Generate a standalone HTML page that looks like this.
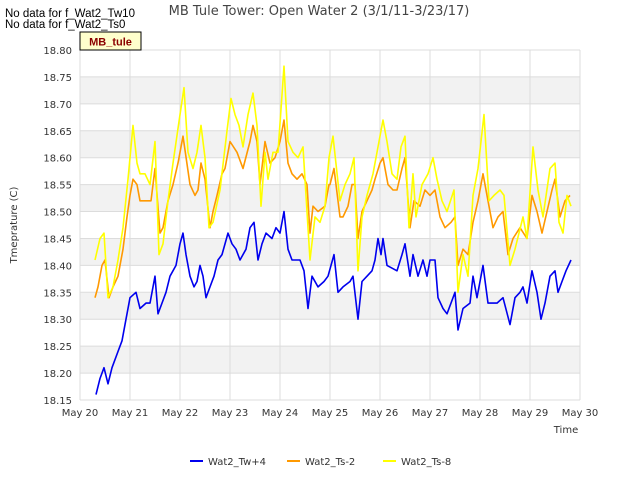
<!DOCTYPE html>
<html><head><meta charset="utf-8"><style>
body{margin:0;background:#fff;font-family:"Liberation Sans",sans-serif}
</style></head><body>
<svg id="c" width="640" height="480" xmlns="http://www.w3.org/2000/svg" font-family="DejaVu Sans, sans-serif">
<text x="5" y="17" font-size="11.5" fill="#000" font-family="Liberation Sans, sans-serif">No data for f_Wat2_Tw10</text>
<text x="5" y="28" font-size="11.5" fill="#000" font-family="Liberation Sans, sans-serif">No data for f_Wat2_Ts0</text>
<text x="319" y="15" font-size="13" fill="#444" text-anchor="middle">MB Tule Tower: Open Water 2 (3/1/11-3/23/17)</text>
<g id="plot"></g>
<text x="566" y="433" font-size="10" fill="#333" text-anchor="middle">Time</text>
<text x="17" y="225" font-size="10" fill="#333" text-anchor="middle" transform="rotate(-90 17 225)">Tmeprature (C)</text>
<rect x="80" y="32" width="61" height="18" fill="#ffffcc" stroke="#000"/>
<text x="110.5" y="45.5" font-size="11" font-weight="bold" fill="#8b0000" text-anchor="middle" font-family="Liberation Sans, sans-serif">MB_tule</text>
<g id="legend"></g>
</svg>
<script>
const xTickLabels=["May 20","May 21","May 22","May 23","May 24","May 25","May 26","May 27","May 28","May 29","May 30"];
const yTicks=[18.15,18.20,18.25,18.30,18.35,18.40,18.45,18.50,18.55,18.60,18.65,18.70,18.75,18.80];
const seriesNames=["Wat2_Tw+4","Wat2_Ts-2","Wat2_Ts-8"];
const seriesColors=["#0000ee","#ff9900","#ffff00"];
const twT=[0.32,0.40,0.48,0.56,0.64,0.76,0.84,0.92,1.00,1.12,1.20,1.32,1.40,1.50,1.56,1.64,1.72,1.80,1.92,2.00,2.06,2.12,2.20,2.28,2.34,2.40,2.46,2.52,2.60,2.68,2.76,2.84,2.96,3.04,3.12,3.20,3.32,3.40,3.48,3.56,3.64,3.72,3.84,3.92,4.00,4.08,4.16,4.24,4.40,4.48,4.56,4.64,4.76,4.88,4.96,5.08,5.16,5.26,5.40,5.46,5.56,5.64,5.74,5.84,5.90,5.96,6.02,6.06,6.14,6.34,6.44,6.50,6.60,6.66,6.76,6.86,6.94,7.00,7.10,7.16,7.26,7.34,7.42,7.50,7.56,7.66,7.80,7.86,7.94,8.06,8.16,8.34,8.46,8.60,8.70,8.80,8.86,8.94,9.04,9.14,9.22,9.30,9.40,9.50,9.56,9.64,9.72,9.82];
const twV=[18.16,18.19,18.21,18.18,18.21,18.24,18.26,18.30,18.34,18.35,18.32,18.33,18.33,18.38,18.31,18.33,18.35,18.38,18.40,18.44,18.46,18.42,18.38,18.36,18.37,18.40,18.38,18.34,18.36,18.38,18.41,18.42,18.46,18.44,18.43,18.41,18.43,18.47,18.48,18.41,18.44,18.46,18.45,18.47,18.46,18.50,18.43,18.41,18.41,18.39,18.32,18.38,18.36,18.37,18.38,18.42,18.35,18.36,18.37,18.38,18.30,18.37,18.38,18.39,18.41,18.45,18.42,18.45,18.40,18.39,18.42,18.44,18.38,18.42,18.38,18.41,18.38,18.41,18.41,18.34,18.32,18.31,18.33,18.35,18.28,18.32,18.33,18.38,18.34,18.40,18.33,18.33,18.34,18.29,18.34,18.35,18.36,18.33,18.39,18.35,18.30,18.33,18.38,18.39,18.35,18.37,18.39,18.41];
const ts2T=[0.30,0.36,0.44,0.50,0.58,0.66,0.76,0.86,0.94,1.00,1.06,1.14,1.20,1.30,1.36,1.42,1.50,1.60,1.66,1.76,1.86,1.96,2.06,2.20,2.30,2.36,2.42,2.50,2.60,2.66,2.74,2.84,2.90,3.00,3.14,3.26,3.40,3.46,3.54,3.60,3.70,3.80,3.90,4.00,4.08,4.16,4.24,4.34,4.44,4.54,4.60,4.66,4.76,4.90,4.98,5.00,5.08,5.16,5.20,5.26,5.36,5.44,5.50,5.56,5.64,5.74,5.84,5.90,6.00,6.06,6.16,6.26,6.34,6.44,6.50,6.60,6.68,6.80,6.90,7.00,7.10,7.20,7.30,7.42,7.50,7.56,7.66,7.76,7.86,7.96,8.06,8.16,8.26,8.36,8.46,8.56,8.66,8.80,8.94,9.04,9.14,9.24,9.34,9.44,9.50,9.60,9.70,9.80];
const ts2V=[18.34,18.36,18.40,18.41,18.34,18.36,18.38,18.43,18.49,18.53,18.56,18.55,18.52,18.52,18.52,18.52,18.58,18.46,18.47,18.52,18.55,18.59,18.64,18.55,18.53,18.54,18.59,18.56,18.47,18.50,18.53,18.57,18.58,18.63,18.61,18.58,18.63,18.66,18.63,18.55,18.63,18.59,18.60,18.63,18.67,18.59,18.57,18.56,18.57,18.55,18.46,18.51,18.50,18.51,18.55,18.55,18.58,18.52,18.49,18.49,18.51,18.55,18.55,18.45,18.50,18.52,18.54,18.56,18.59,18.60,18.55,18.54,18.54,18.58,18.60,18.47,18.52,18.51,18.54,18.53,18.54,18.49,18.47,18.48,18.49,18.40,18.43,18.42,18.48,18.52,18.57,18.52,18.47,18.49,18.50,18.42,18.45,18.47,18.45,18.53,18.50,18.46,18.50,18.54,18.56,18.49,18.52,18.53];
const ts8T=[0.30,0.40,0.48,0.56,0.66,0.76,0.86,0.96,1.06,1.14,1.20,1.30,1.40,1.50,1.58,1.66,1.76,1.86,2.00,2.08,2.16,2.26,2.34,2.42,2.50,2.58,2.66,2.80,2.94,3.02,3.10,3.18,3.26,3.36,3.46,3.54,3.62,3.70,3.76,3.86,3.96,4.08,4.16,4.26,4.36,4.46,4.60,4.70,4.80,4.90,4.98,5.06,5.20,5.30,5.40,5.48,5.56,5.64,5.74,5.86,5.98,6.06,6.14,6.24,6.34,6.42,6.50,6.58,6.66,6.72,6.84,6.96,7.06,7.14,7.24,7.34,7.48,7.56,7.66,7.76,7.86,7.96,8.08,8.18,8.28,8.40,8.48,8.60,8.70,8.86,8.94,9.06,9.16,9.26,9.40,9.50,9.58,9.66,9.74,9.82];
const ts8V=[18.41,18.45,18.46,18.34,18.36,18.41,18.47,18.56,18.66,18.59,18.57,18.57,18.55,18.63,18.42,18.44,18.52,18.59,18.68,18.73,18.61,18.58,18.61,18.66,18.60,18.47,18.48,18.54,18.65,18.71,18.68,18.66,18.62,18.68,18.72,18.66,18.51,18.61,18.56,18.61,18.61,18.77,18.63,18.61,18.60,18.62,18.41,18.49,18.48,18.51,18.60,18.64,18.52,18.55,18.57,18.60,18.39,18.49,18.53,18.57,18.63,18.67,18.63,18.57,18.56,18.62,18.64,18.47,18.57,18.49,18.55,18.57,18.60,18.56,18.52,18.50,18.54,18.35,18.42,18.38,18.53,18.58,18.68,18.52,18.53,18.54,18.53,18.40,18.43,18.49,18.45,18.62,18.54,18.49,18.58,18.59,18.48,18.46,18.53,18.51];

const X0=80,X1=580,Y0=400,Y1=50,YMIN=18.15,YMAX=18.80;
const xs=d=>X0+(X1-X0)*d/10;
const ys=v=>Y0-(Y0-Y1)*(v-YMIN)/(YMAX-YMIN);
const NS="http://www.w3.org/2000/svg";
const plot=document.getElementById('plot');
function mk(tag,attrs,parent){const e=document.createElementNS(NS,tag);for(const k in attrs)e.setAttribute(k,attrs[k]);parent.appendChild(e);return e;}
mk('rect',{x:X0,y:Y1,width:X1-X0,height:Y0-Y1,fill:'#fff'},plot);
for(let i=0;i<yTicks.length-1;i++){
  if(i%2===1){const r=mk('rect',{x:X0,y:ys(yTicks[i+1]),width:X1-X0,height:ys(yTicks[i])-ys(yTicks[i+1]),fill:'#f2f2f2'},plot);
  
  }
}
yTicks.forEach(v=>{
  const l=mk('line',{x1:X0,x2:X1,y1:ys(v),y2:ys(v),stroke:'#dcdcdc','stroke-width':1},plot);
  
  
  const t=mk('text',{x:X0-8,y:ys(v)+4,'font-size':10,fill:'#333','text-anchor':'end'},plot);
  
  
  t.textContent=v.toFixed(2);
});
xTickLabels.forEach((s,i)=>{
  const l=mk('line',{x1:xs(i),x2:xs(i),y1:Y1,y2:Y0,stroke:'#dcdcdc','stroke-width':1},plot);
  
  
  const t=mk('text',{x:xs(i),y:Y0+16,'font-size':10,fill:'#333','text-anchor':'middle'},plot);
  
  
  t.textContent=s;
});
const data=[[twT,twV],[ts2T,ts2V],[ts8T,ts8V]];
data.forEach((d,si)=>{
  const pts=d[0].map((t,i)=>xs(t).toFixed(1)+','+ys(d[1][i]).toFixed(1)).join(' ');
  const p=mk('polyline',{points:pts,fill:'none',stroke:seriesColors[si],'stroke-width':1.6,'stroke-linejoin':'round'},plot);
  
  
});
const lg=document.getElementById('legend');
const lx=[190,287,383];
seriesNames.forEach((n,i)=>{
  const g=mk('g',{},lg);
  
  
  mk('line',{x1:lx[i],x2:lx[i]+13,y1:461,y2:461,stroke:seriesColors[i],'stroke-width':2},g);
  const t=mk('text',{x:lx[i]+18,y:465,'font-size':10,fill:'#333'},g);
  t.textContent=n;
});
</script>
</body></html>
